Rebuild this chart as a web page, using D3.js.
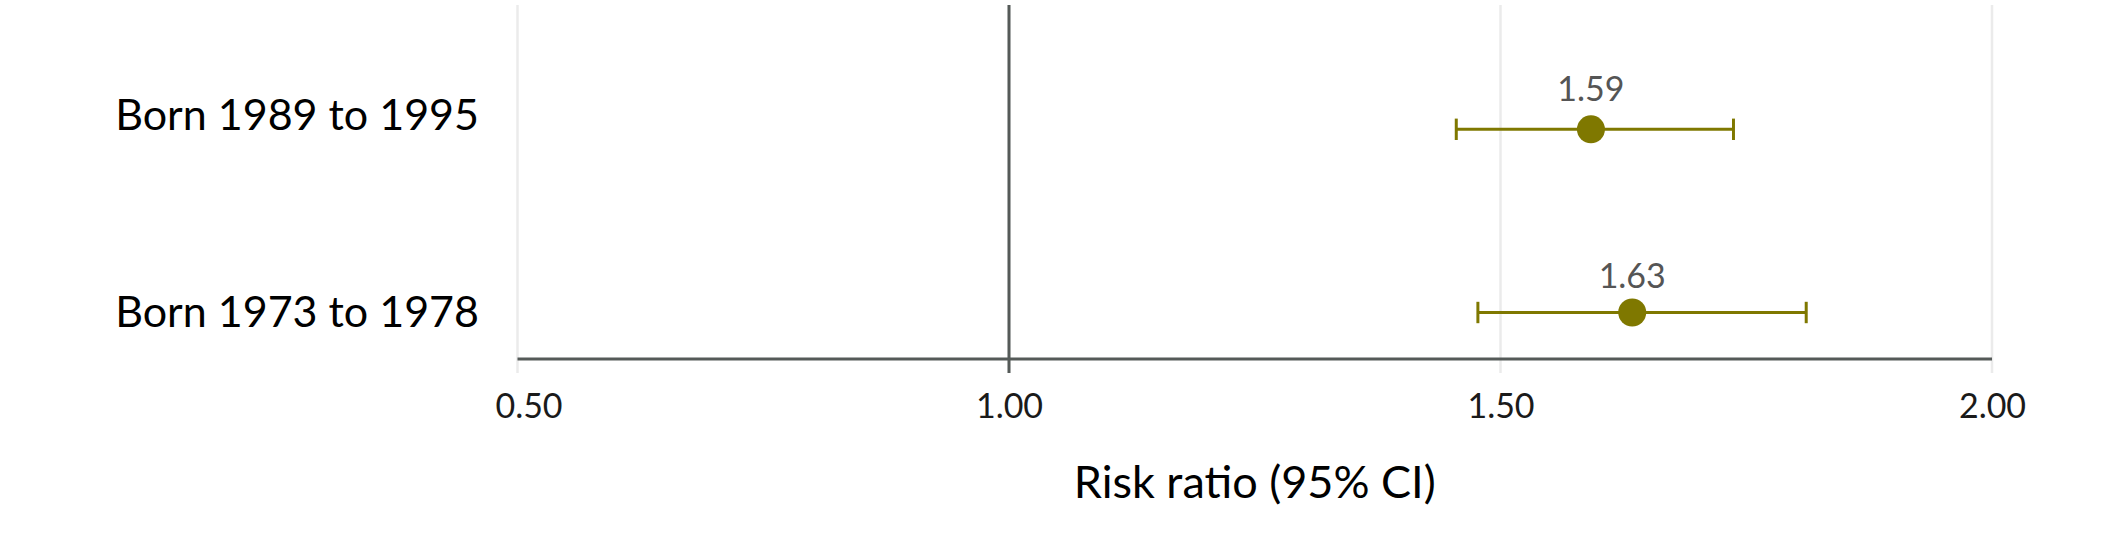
<!DOCTYPE html>
<html>
<head>
<meta charset="utf-8">
<script src="https://cdn.jsdelivr.net/npm/d3@7"></script>
<style>
  body { margin: 0; background: #fff; }
  svg { display: block; font-family: Lato, "Noto Sans", sans-serif; }
</style>
</head>
<body>
<div id="chart"></div>
<script>
const cohorts = ["Born 1989 to 1995", "Born 1973 to 1978"];
const risk_ratio = [1.592, 1.634];
const lower_ci = [1.455, 1.477];
const upper_ci = [1.737, 1.811];
const x_ticks = [0.5, 1.0, 1.5, 2.0];
const ref_value = 1.0;
const x_title = "Risk ratio (95% CI)";

const width = 2126, height = 534;
const olive = "#7f7800";
const dark = "#555a58";

const rows = cohorts.map(function(c, i) {
  return { cohort: c, rr: risk_ratio[i], lo: lower_ci[i], hi: upper_ci[i] };
});

let svg = d3.select("#chart").append("svg")
    .attr("width", width)
    .attr("height", height);

let x = d3.scaleLinear()
    .domain([0.5, 2.0])
    .range([517.5, 1992]);

// mark rows, label baselines and value-label baselines
let y = d3.scalePoint().domain(cohorts).range([129.3, 312.5]);
let y_label = d3.scalePoint().domain(cohorts).range([130, 327]);
let y_value = d3.scalePoint().domain(cohorts).range([100.7, 288.3]);

const plot_top = 5, axis_y = 359, tick_end = 373;

// gridlines
svg.selectAll(".grid")
    .data(x_ticks)
  .enter().append("line")
    .attr("class", "grid")
    .attr("x1", function(d) { return x(d); })
    .attr("x2", function(d) { return x(d); })
    .attr("y1", plot_top)
    .attr("y2", tick_end)
    .attr("stroke", "#ebebeb")
    .attr("stroke-width", 2.5);

// reference line at 1
svg.append("line")
    .attr("x1", x(ref_value))
    .attr("x2", x(ref_value))
    .attr("y1", plot_top)
    .attr("y2", tick_end)
    .attr("stroke", dark)
    .attr("stroke-width", 3);

// x axis line
svg.append("line")
    .attr("x1", x(0.5))
    .attr("x2", x(2.0))
    .attr("y1", axis_y)
    .attr("y2", axis_y)
    .attr("stroke", dark)
    .attr("stroke-width", 3);

// tick labels
let x_axis = svg.append("g")
    .attr("transform", "translate(0," + axis_y + ")")
    .call(d3.axisBottom(x)
      .tickValues(x_ticks)
      .tickSize(0)
      .tickPadding(0)
      .tickFormat(d3.format(".2f")));
x_axis.select(".domain").remove();
x_axis.selectAll("text")
    .attr("dy", null)
    .attr("y", 59)
    .attr("x", function(d, i) { return i === 0 ? 11 : 0; })
    .attr("fill", "#1a1a1a")
    .style("font-family", "Lato, 'Noto Sans', sans-serif")
    .style("font-size", "34px");

// axis title
svg.append("text")
    .attr("x", (x(0.5) + x(2.0)) / 2)
    .attr("y", 498)
    .attr("text-anchor", "middle")
    .attr("fill", "#000")
    .style("font-size", "45px")
    .text(x_title);

// y labels
svg.selectAll(".ylab")
    .data(rows)
  .enter().append("text")
    .attr("class", "ylab")
    .attr("x", 479)
    .attr("y", function(d) { return y_label(d.cohort); })
    .attr("text-anchor", "end")
    .attr("fill", "#000")
    .style("font-size", "43px")
    .text(function(d) { return d.cohort; });

// error bars
let bars = svg.selectAll(".ci")
    .data(rows)
  .enter().append("g")
    .attr("class", "ci");

bars.append("line")
    .attr("x1", function(d) { return x(d.lo); })
    .attr("x2", function(d) { return x(d.hi); })
    .attr("y1", function(d) { return y(d.cohort); })
    .attr("y2", function(d) { return y(d.cohort); })
    .attr("stroke", olive)
    .attr("stroke-width", 3);

bars.selectAll(".cap")
    .data(function(d) { return [{v: d.lo, c: d.cohort}, {v: d.hi, c: d.cohort}]; })
  .enter().append("line")
    .attr("class", "cap")
    .attr("x1", function(d) { return x(d.v); })
    .attr("x2", function(d) { return x(d.v); })
    .attr("y1", function(d) { return y(d.c) - 10.7; })
    .attr("y2", function(d) { return y(d.c) + 10.7; })
    .attr("stroke", olive)
    .attr("stroke-width", 3);

// points
svg.selectAll(".pt")
    .data(rows)
  .enter().append("circle")
    .attr("class", "pt")
    .attr("cx", function(d) { return x(d.rr); })
    .attr("cy", function(d) { return y(d.cohort); })
    .attr("r", 14)
    .attr("fill", olive);

// value labels
svg.selectAll(".val")
    .data(rows)
  .enter().append("text")
    .attr("class", "val")
    .attr("x", function(d) { return x(d.rr); })
    .attr("y", function(d) { return y_value(d.cohort); })
    .attr("text-anchor", "middle")
    .attr("fill", "#555555")
    .style("font-size", "34px")
    .text(function(d) { return d3.format(".2f")(d.rr); });
</script>
</body>
</html>
